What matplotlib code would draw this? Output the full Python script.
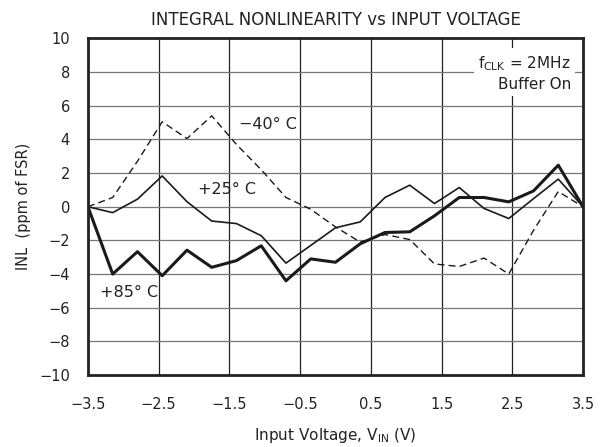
import numpy as np
import matplotlib
matplotlib.use('Agg')
import matplotlib.pyplot as plt

plt.rcParams['font.family'] = ['DejaVu Sans']
plt.rcParams['mathtext.fontset'] = 'dejavusans'

# input voltage points (V)
vin = [-3.5, -3.15, -2.8, -2.45, -2.1, -1.75, -1.4, -1.05, -0.7, -0.35, 0.0,
       0.35, 0.7, 1.05, 1.4, 1.75, 2.1, 2.45, 2.8, 3.15, 3.5]

# INL, ppm of FSR
inl_m40 = [0.0, 0.55, 2.7, 5.05, 4.05, 5.4, 3.7, 2.2, 0.55, -0.15, -1.2,
           -2.1, -1.65, -1.95, -3.4, -3.55, -3.05, -4.0, -1.4, 0.9, 0.0]
inl_25 = [0.0, -0.35, 0.45, 1.83, 0.3, -0.85, -1.0, -1.72, -3.35, -2.3, -1.25,
          -0.9, 0.55, 1.28, 0.19, 1.14, -0.1, -0.7, 0.48, 1.64, 0.0]
inl_85 = [0.0, -4.0, -2.67, -4.1, -2.58, -3.6, -3.2, -2.32, -4.4, -3.1, -3.3,
          -2.2, -1.53, -1.49, -0.54, 0.55, 0.55, 0.29, 0.94, 2.47, 0.0]

xticks = [-3.5, -2.5, -1.5, -0.5, 0.5, 1.5, 2.5, 3.5]
yticks = [-10, -8, -6, -4, -2, 0, 2, 4, 6, 8, 10]

fig = plt.figure(figsize=(6.15, 4.47), dpi=100)
ax = fig.add_axes([0.143, 0.161, 0.805, 0.753])

ax.plot(vin, inl_m40, color='#1a1a1a', lw=1.0, ls=(0, (5, 3)))
ax.plot(vin, inl_25, color='#1a1a1a', lw=1.2)
ax.plot(vin, inl_85, color='#1a1a1a', lw=2.2)

ax.set_xlim(-3.5, 3.5)
ax.set_ylim(-10, 10)
ax.set_xticks(xticks)
ax.set_yticks(yticks)
ax.set_xticklabels([str(t).replace('-', '\u2212') for t in xticks])
ax.set_yticklabels([str(t).replace('-', '\u2212') for t in yticks])
ax.tick_params(length=0, labelsize=10.5, colors='#222')
ax.tick_params(axis='x', pad=16)
ax.tick_params(axis='y', pad=13)

for t in xticks[1:-1]:
    ax.axvline(t, color='#222', lw=0.9, zorder=0)
for t in yticks[1:-1]:
    ax.axhline(t, color='#777', lw=0.9, zorder=0)

for s in ax.spines.values():
    s.set_linewidth(2.0)
    s.set_color('#222')

ax.set_title('INTEGRAL NONLINEARITY vs INPUT VOLTAGE', fontsize=12, color='#222', pad=10)
ax.set_xlabel('Input Voltage, V$_{\\mathregular{IN}}$ (V)', fontsize=11, color='#222', labelpad=10)
ax.set_ylabel('INL  (ppm of FSR)', fontsize=10.5, color='#222', labelpad=6)

ax.text(-1.37, 4.9, '\u221240\u00b0 C', fontsize=11.5, va='center', ha='left', color='#222')
ax.text(-1.95, 1.04, '+25\u00b0 C', fontsize=11.5, va='center', ha='left', color='#222')
ax.text(-3.33, -5.1, '+85\u00b0 C', fontsize=11.5, va='center', ha='left', color='#222')

ax.text(3.33, 7.95, 'f$_{\\mathregular{CLK}}$ = 2MHz\nBuffer On', fontsize=11, va='center', ha='right',
        multialignment='right', linespacing=1.35, color='#222',
        bbox=dict(facecolor='white', edgecolor='none', pad=3))

fig.savefig('out.png', dpi=100)
